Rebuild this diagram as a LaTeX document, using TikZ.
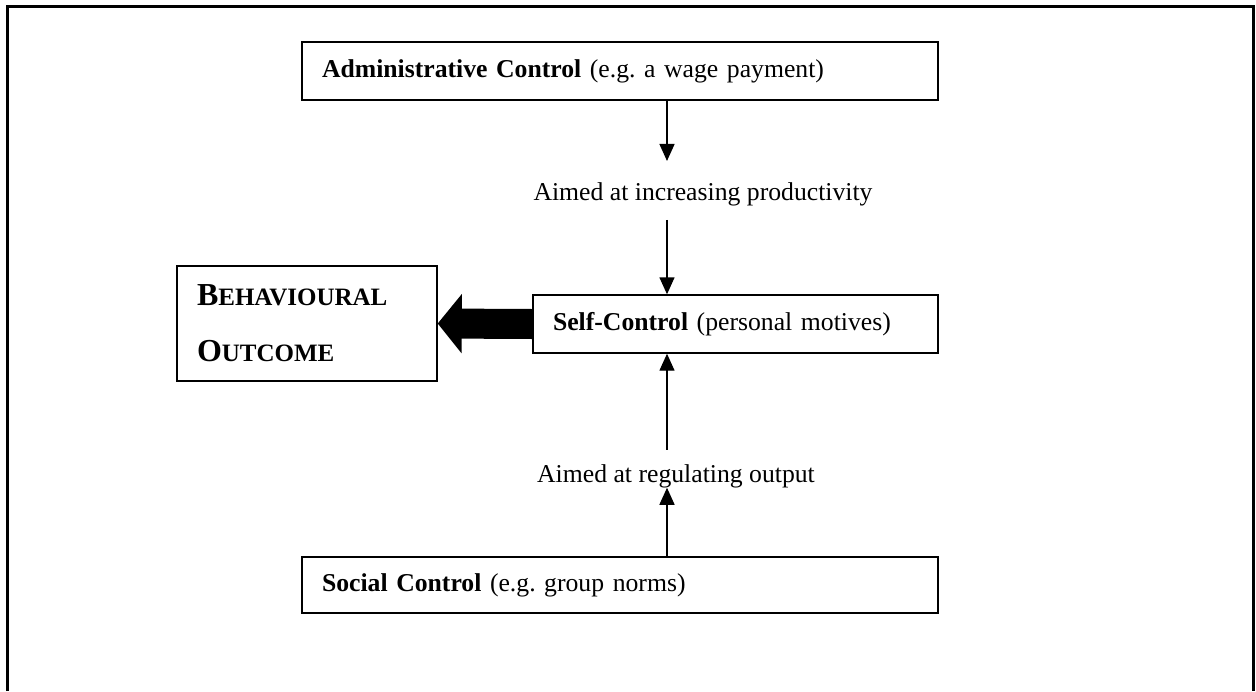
\documentclass[tikz,border=0pt]{standalone}
\usepackage{fontspec}
\setmainfont{Liberation Serif}
\usetikzlibrary{arrows.meta}
\frenchspacing

% larger first letter for the small-caps heading
\newcommand{\initcap}[1]{{\fontsize{32}{56}\selectfont #1}}

\begin{document}
\begin{tikzpicture}[x=1pt,y=-1pt,
  box/.style={draw, line width=1.4pt, inner xsep=20pt, inner ysep=0pt,
    align=left, font=\fontsize{25.7}{31}\selectfont},
  lbl/.style={inner sep=0pt, font=\fontsize{25.7}{31}\selectfont},
  arr/.style={line width=1.4pt, -{Triangle[width=15pt,length=17pt]}},
  fat/.style={line width=30pt, -{Triangle[width=58pt,length=24pt]}}]

\useasboundingbox (0,0) rectangle (1256,691);

% open frame (no bottom edge)
\draw[line width=3pt] (7.5,691) -- (7.5,6) -- (1253,6) -- (1253,691);

% boxes
\node[box, minimum width=636pt, minimum height=58pt, text width=596pt]
  (admin) at (620,71) {\textbf{Administrative Control} (e.g.\ a wage payment)};
\node[box, minimum width=405pt, minimum height=58pt, text width=365pt]
  (self) at (735.5,324) {\textbf{Self-Control} (personal motives)};
\node[box, minimum width=636pt, minimum height=56pt, text width=596pt]
  (social) at (620,585) {\textbf{Social Control} (e.g.\ group norms)};
\node[box, minimum width=260pt, minimum height=115pt, text width=220pt,
  font=\fontsize{25}{56}\selectfont\bfseries]
  (beh) at (307,323.5) {\initcap{B}EHAVIOURAL\\\initcap{O}UTCOME};

% labels on the vertical axis
\node[lbl, anchor=base] (lab1) at (703,200) {Aimed at increasing productivity};
\node[lbl, anchor=base] (lab2) at (676,482) {Aimed at regulating output};

\coordinate (ax) at (667,0);

% connectors
\draw[arr, shorten >=21pt] (admin.south -| ax) -- (lab1.north -| ax);
\draw[arr, shorten <=14pt] (lab1.south -| ax) -- (self.north -| ax);
\draw[arr, shorten <=14pt] (lab2.north -| ax) -- (self.south -| ax);
\draw[arr] (social.north -| ax) -- (lab2.south -| ax);
\draw[fat] (self.west) -- (beh.east);

\end{tikzpicture}
\end{document}
